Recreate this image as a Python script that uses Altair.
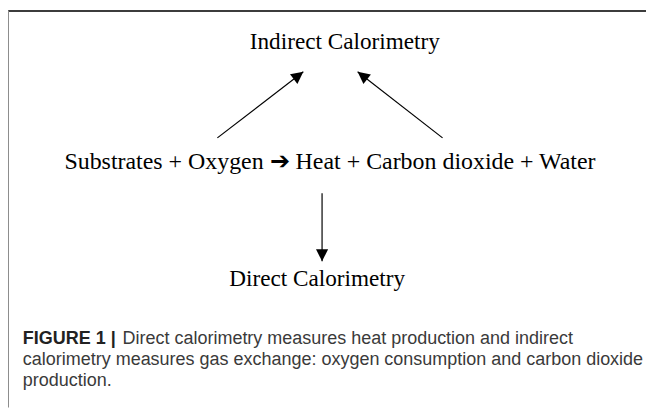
import altair as alt
import pandas as pd
import math

# ---- data -------------------------------------------------------------
node_labels = [
    "Indirect Calorimetry",
    "Substrates + Oxygen \u2794 Heat + Carbon dioxide + Water",
    "Direct Calorimetry",
]
node_x = [349, 334, 321]
node_y = [47, 169, 287]
node_size = [23.5, 24.2, 23.5]

arrow_x1 = [220, 448, 326]
arrow_y1 = [137, 137, 193]
arrow_x2 = [307, 362, 326]
arrow_y2 = [70, 70, 262]

caption_bold = ["FIGURE 1 |"]
caption_bold_x = [23]
caption_bold_y = [346]
caption_lines = [
    "Direct calorimetry measures heat production and indirect",
    "calorimetry measures gas exchange: oxygen consumption and carbon dioxide",
    "production.",
]
caption_x = [124, 23, 23]
caption_y = [346, 367, 388]

frame_x1 = [8, 8]
frame_y1 = [8.5, 8]
frame_x2 = [654, 8]
frame_y2 = [8.5, 410]
frame_color = ["#3c3c3c", "#8c8c8c"]

# ---- tables -----------------------------------------------------------
nodes = pd.DataFrame({"label": node_labels, "x": node_x, "y": node_y, "s": node_size})
arrows = pd.DataFrame({"x1": arrow_x1, "y1": arrow_y1, "x2": arrow_x2, "y2": arrow_y2})
arrows["angle"] = [
    (math.degrees(math.atan2(b - a, -(d - c))) + 360) % 360
    for a, b, c, d in zip(arrow_x1, arrow_x2, arrow_y1, arrow_y2)
]
cap_b = pd.DataFrame({"t": caption_bold, "x": caption_bold_x, "y": caption_bold_y})
cap = pd.DataFrame({"t": caption_lines, "x": caption_x, "y": caption_y})
frame = pd.DataFrame({"x1": frame_x1, "y1": frame_y1, "x2": frame_x2, "y2": frame_y2, "c": frame_color})

xs = alt.Scale(domain=[8, 654], nice=False, zero=False)
ys = alt.Scale(domain=[8, 410], nice=False, zero=False, reverse=True)

X = lambda f: alt.X(f, type="quantitative", scale=xs, axis=None)
Y = lambda f: alt.Y(f, type="quantitative", scale=ys, axis=None)

frame_layer = alt.Chart(frame).mark_rule(strokeWidth=2).encode(
    x=X("x1"), y=Y("y1"), x2="x2", y2="y2",
    color=alt.Color("c:N", scale=None),
)

shafts = alt.Chart(arrows).mark_rule(color="#000000", strokeWidth=1.2).encode(
    x=X("x1"), y=Y("y1"), x2="x2", y2="y2"
)

heads = alt.Chart(arrows).mark_point(
    shape="M0,0L-0.5,1L0.5,1Z", filled=True, color="#000000", opacity=1, size=600
).encode(
    x=X("x2"), y=Y("y2"), angle=alt.Angle("angle:Q", scale=None)
)

node_text = alt.Chart(nodes).mark_text(
    font="Liberation Serif", align="center", baseline="alphabetic", color="#000000"
).encode(x=X("x"), y=Y("y"), text="label:N", size=alt.Size("s:Q", scale=None))

cap_bold_text = alt.Chart(cap_b).mark_text(
    font="Liberation Sans", fontSize=18.2, fontWeight="bold", align="left",
    baseline="alphabetic", color="#222222"
).encode(x=X("x"), y=Y("y"), text="t:N")

cap_text = alt.Chart(cap).mark_text(
    font="Liberation Sans", fontSize=18.2, align="left",
    baseline="alphabetic", color="#3a3a3a"
).encode(x=X("x"), y=Y("y"), text="t:N")

chart = alt.layer(
    frame_layer, shafts, heads, node_text, cap_bold_text, cap_text
).properties(
    width=646, height=402, autosize=alt.AutoSizeParams(type="none"), padding=0,
    background="#ffffff",
).configure_view(stroke=None)

chart.save("out.html", embed_options={"renderer": "svg", "actions": False})
